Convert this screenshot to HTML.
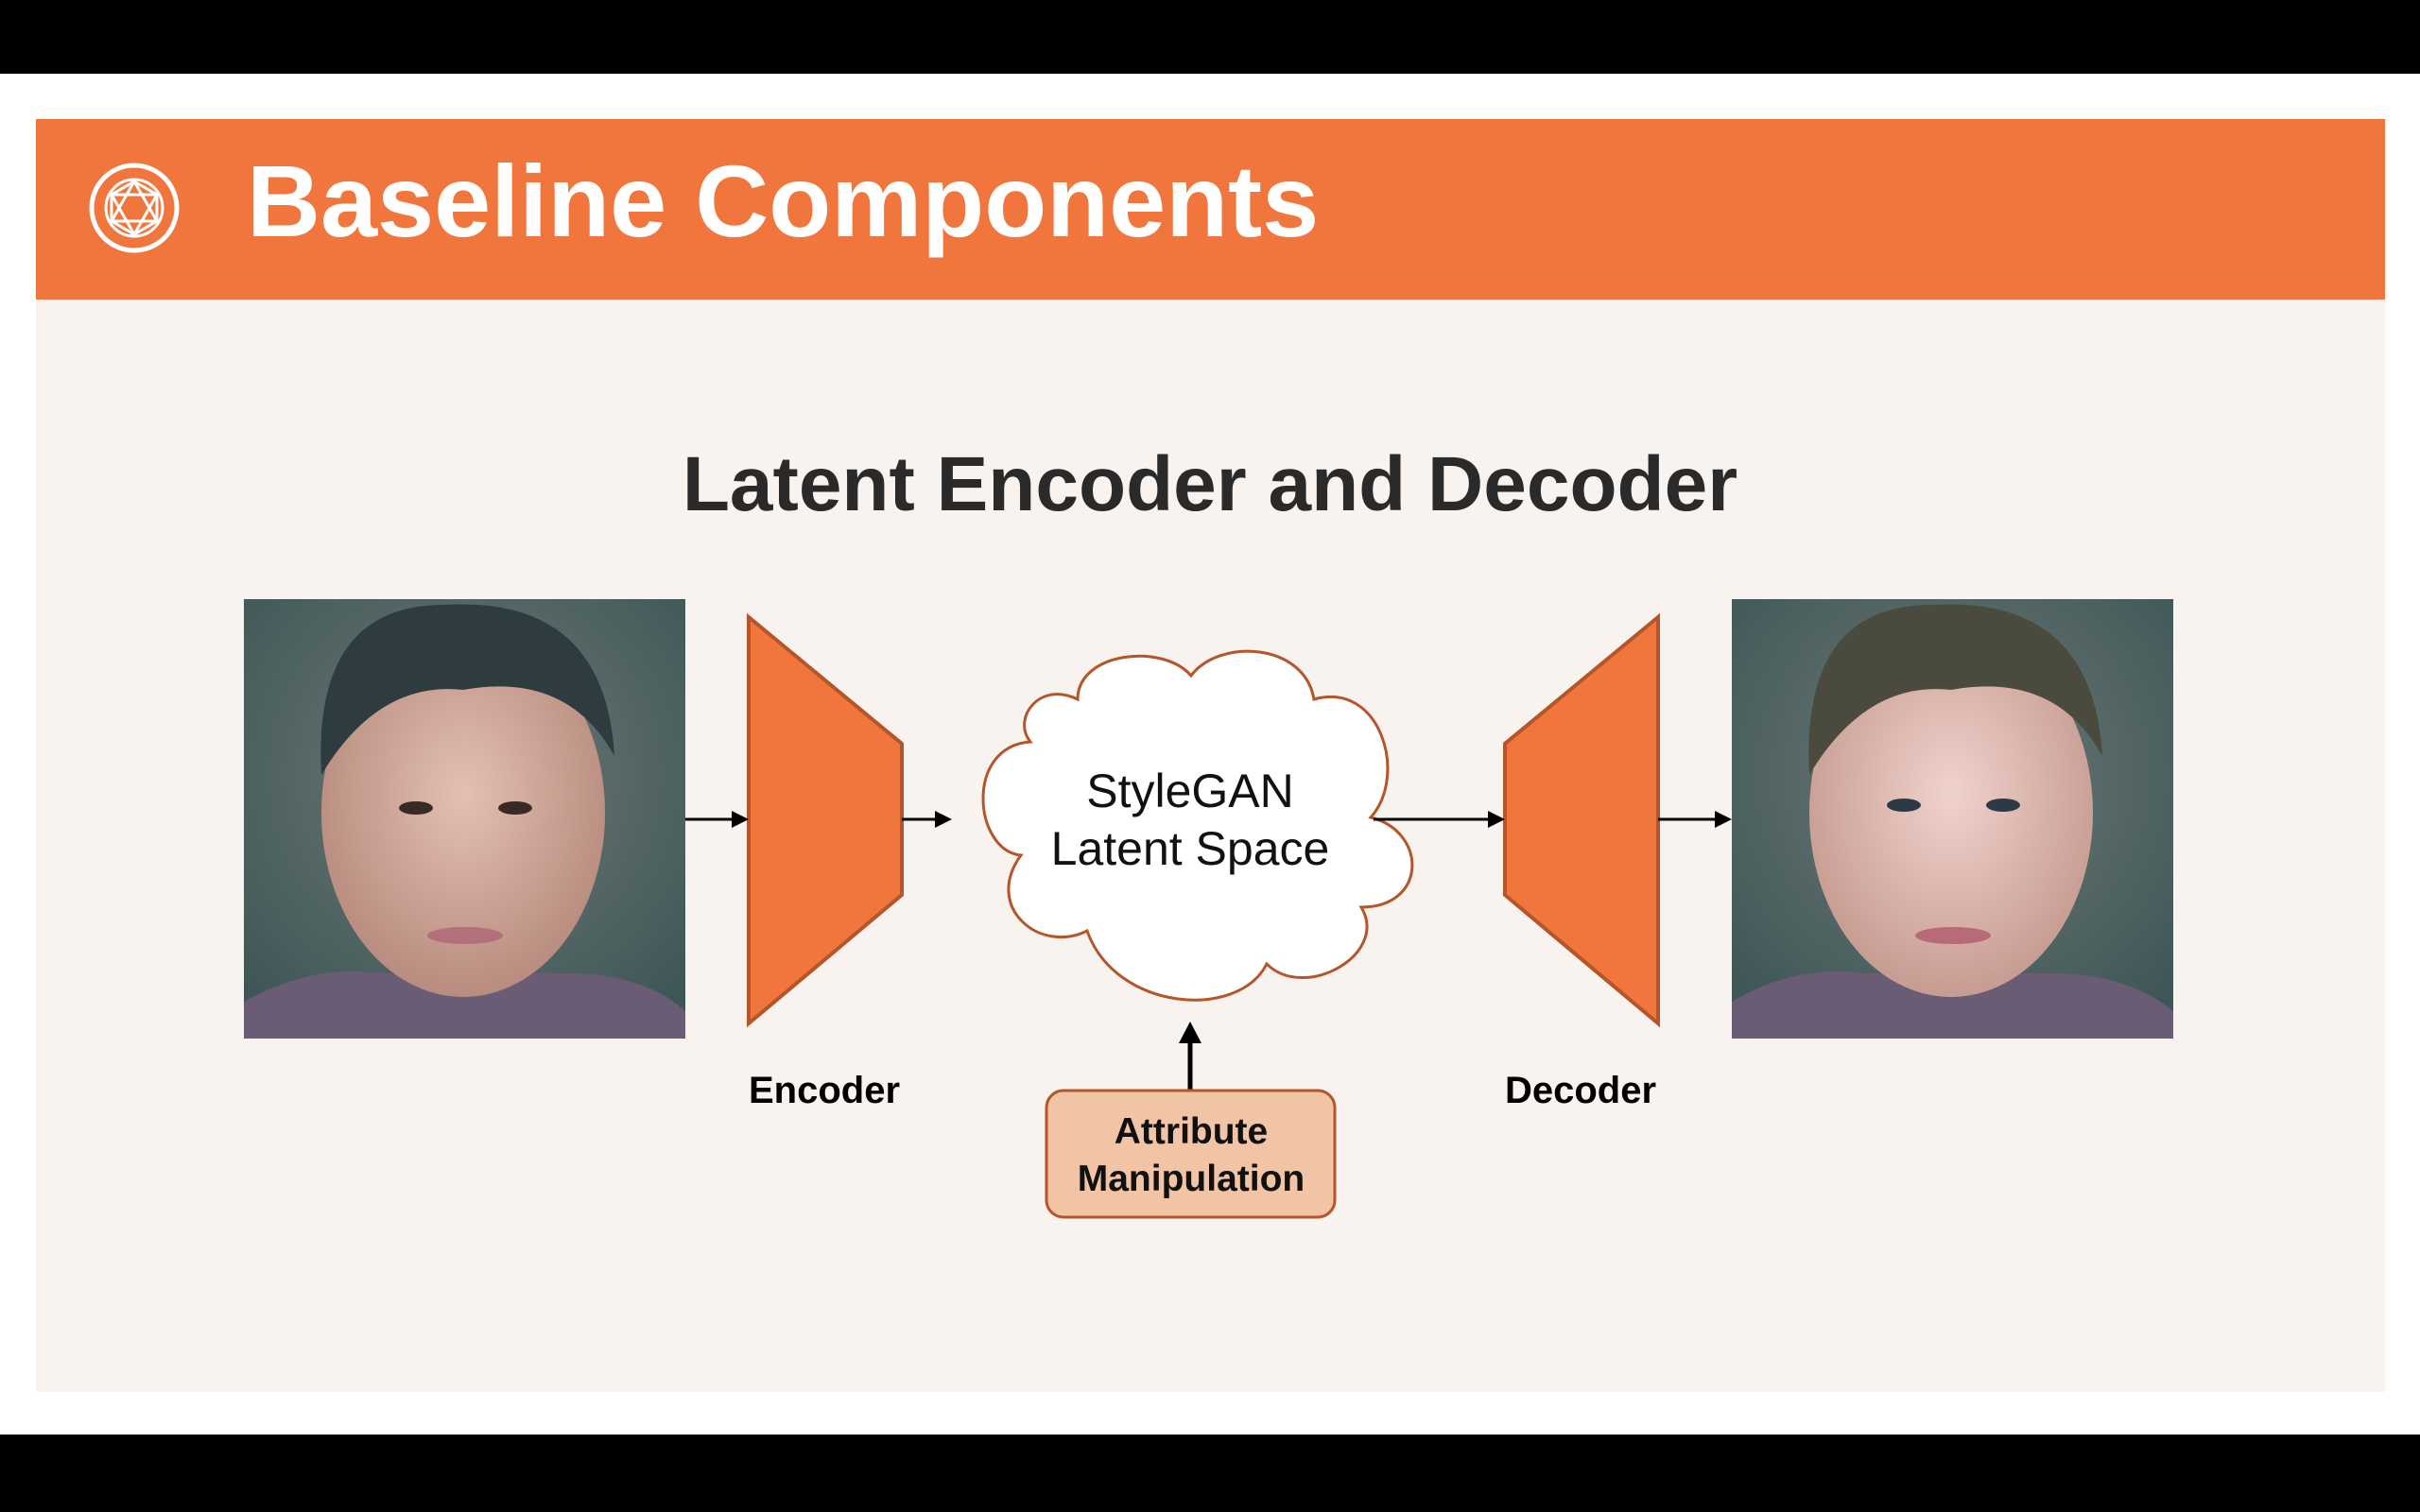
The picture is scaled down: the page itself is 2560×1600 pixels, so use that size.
<!DOCTYPE html>
<html><head><meta charset="utf-8"><style>
html,body{margin:0;padding:0;width:2560px;height:1600px;overflow:hidden;background:#fff;font-family:"Liberation Sans","DejaVu Sans",sans-serif}
.abs{position:absolute}
</style></head><body>
<div class="abs" style="left:0;top:0;width:2560px;height:78px;background:#000"></div>
<div class="abs" style="left:0;top:1518px;width:2560px;height:82px;background:#000"></div>
<div class="abs" style="left:38px;top:126px;width:2485px;height:1347px;background:#f9f3ef"></div>
<div class="abs" style="left:38px;top:126px;width:2485px;height:191px;background:#f0763d"></div>
<svg class="abs" style="left:0;top:0" width="2560" height="1600">
 <g stroke="#fff" fill="none" stroke-width="5">
  <circle cx="142" cy="220" r="45"/>
  <circle cx="142" cy="220" r="30" stroke-width="3"/>
  <polygon points="142,192 166,206 166,234 142,248 118,234 118,206" stroke-width="3"/>
  <path d="M142,192 L166,234 L118,234 Z M118,206 L166,206 L142,248 Z" stroke-width="3"/>
 </g>
 <text x="261" y="250" font-size="108" font-weight="bold" fill="#fff" font-family="Liberation Sans, sans-serif">Baseline Components</text>
 <text x="1280" y="540" font-size="82" font-weight="bold" fill="#2a2a2a" text-anchor="middle" font-family="Liberation Sans, sans-serif">Latent Encoder and Decoder</text>
 <defs>
  <radialGradient id="bg" cx="50%" cy="40%" r="70%"><stop offset="0" stop-color="#6d7a78"/><stop offset="1" stop-color="#3f5656"/></radialGradient>
  <radialGradient id="sk" cx="50%" cy="45%" r="55%"><stop offset="0" stop-color="#e3c0b3"/><stop offset="1" stop-color="#b88c7e"/></radialGradient>
  <radialGradient id="sk2" cx="50%" cy="45%" r="55%"><stop offset="0" stop-color="#f0d2cc"/><stop offset="1" stop-color="#c79c92"/></radialGradient>
 </defs>
 <g>
  <rect x="258" y="634" width="467" height="465" fill="url(#bg)"/>
  <path d="M258,1099 L258,1060 Q330,1020 400,1030 L600,1030 Q680,1030 725,1070 L725,1099Z" fill="#6a5c74"/>
  <ellipse cx="490" cy="860" rx="150" ry="195" fill="url(#sk)"/>
  <path d="M340,820 Q330,640 470,640 Q640,630 650,800 Q600,710 490,730 Q400,720 340,820Z" fill="#2f3c3f"/>
  <ellipse cx="440" cy="855" rx="18" ry="7" fill="#3a2a26"/><ellipse cx="545" cy="855" rx="18" ry="7" fill="#3a2a26"/>
  <ellipse cx="492" cy="990" rx="40" ry="9" fill="#b2707a"/>
 </g>
 <g>
  <rect x="1832" y="634" width="467" height="465" fill="url(#bg)"/>
  <path d="M1832,1099 L1832,1060 Q1900,1020 1970,1030 L2170,1030 Q2250,1030 2299,1070 L2299,1099Z" fill="#6a5c74"/>
  <ellipse cx="2064" cy="860" rx="150" ry="195" fill="url(#sk2)"/>
  <path d="M1914,820 Q1904,640 2044,640 Q2214,630 2224,800 Q2174,710 2064,730 Q1974,720 1914,820Z" fill="#4a4a3e"/>
  <ellipse cx="2014" cy="852" rx="18" ry="7" fill="#2c3a48"/><ellipse cx="2119" cy="852" rx="18" ry="7" fill="#2c3a48"/>
  <ellipse cx="2066" cy="990" rx="40" ry="9" fill="#b86a78"/>
 </g>
 <polygon points="792,653 954,787 954,947 792,1083" fill="#f0763d" stroke="#b4552a" stroke-width="4"/>
 <polygon points="1754,653 1592,787 1592,947 1754,1083" fill="#f0763d" stroke="#b4552a" stroke-width="4"/>
 <path d="M1090,785 C1020,790 1030,900 1080,905 C1040,960 1100,1010 1150,985 C1180,1070 1310,1080 1340,1020 C1380,1060 1470,1010 1440,960 C1510,960 1510,880 1450,865 C1490,820 1460,720 1390,740 C1380,680 1290,675 1260,715 C1230,680 1140,690 1140,740 C1100,720 1070,760 1090,785Z" fill="#fff" stroke="#b4552a" stroke-width="3"/>
 <text x="1259" y="854" font-size="50" fill="#111" text-anchor="middle" font-family="Liberation Sans, sans-serif">StyleGAN</text>
 <text x="1259" y="915" font-size="50" fill="#111" text-anchor="middle" font-family="Liberation Sans, sans-serif">Latent Space</text>
 <g stroke="#000" stroke-width="3" fill="#000">
  <line x1="725" y1="867" x2="778" y2="867"/><polygon points="792,867 774,858 774,876" stroke="none"/>
  <line x1="954" y1="867" x2="993" y2="867"/><polygon points="1007,867 989,858 989,876" stroke="none"/>
  <line x1="1453" y1="867" x2="1578" y2="867"/><polygon points="1592,867 1574,858 1574,876" stroke="none"/>
  <line x1="1754" y1="867" x2="1818" y2="867"/><polygon points="1832,867 1814,858 1814,876" stroke="none"/>
  <line x1="1259" y1="1154" x2="1259" y2="1100" stroke-width="5"/><polygon points="1259,1081 1247,1104 1271,1104" stroke="none"/>
 </g>
 <text x="872" y="1167" font-size="40" font-weight="bold" fill="#000" text-anchor="middle" font-family="Liberation Sans, sans-serif">Encoder</text>
 <text x="1672" y="1167" font-size="40" font-weight="bold" fill="#000" text-anchor="middle" font-family="Liberation Sans, sans-serif">Decoder</text>
 <rect x="1107" y="1154" width="305" height="134" rx="18" fill="#f2c4a6" stroke="#b4552a" stroke-width="3"/>
 <text x="1260" y="1210" font-size="39" font-weight="bold" fill="#111" text-anchor="middle" font-family="Liberation Sans, sans-serif">Attribute</text>
 <text x="1260" y="1260" font-size="39" font-weight="bold" fill="#111" text-anchor="middle" font-family="Liberation Sans, sans-serif">Manipulation</text>
</svg>
</body></html>
